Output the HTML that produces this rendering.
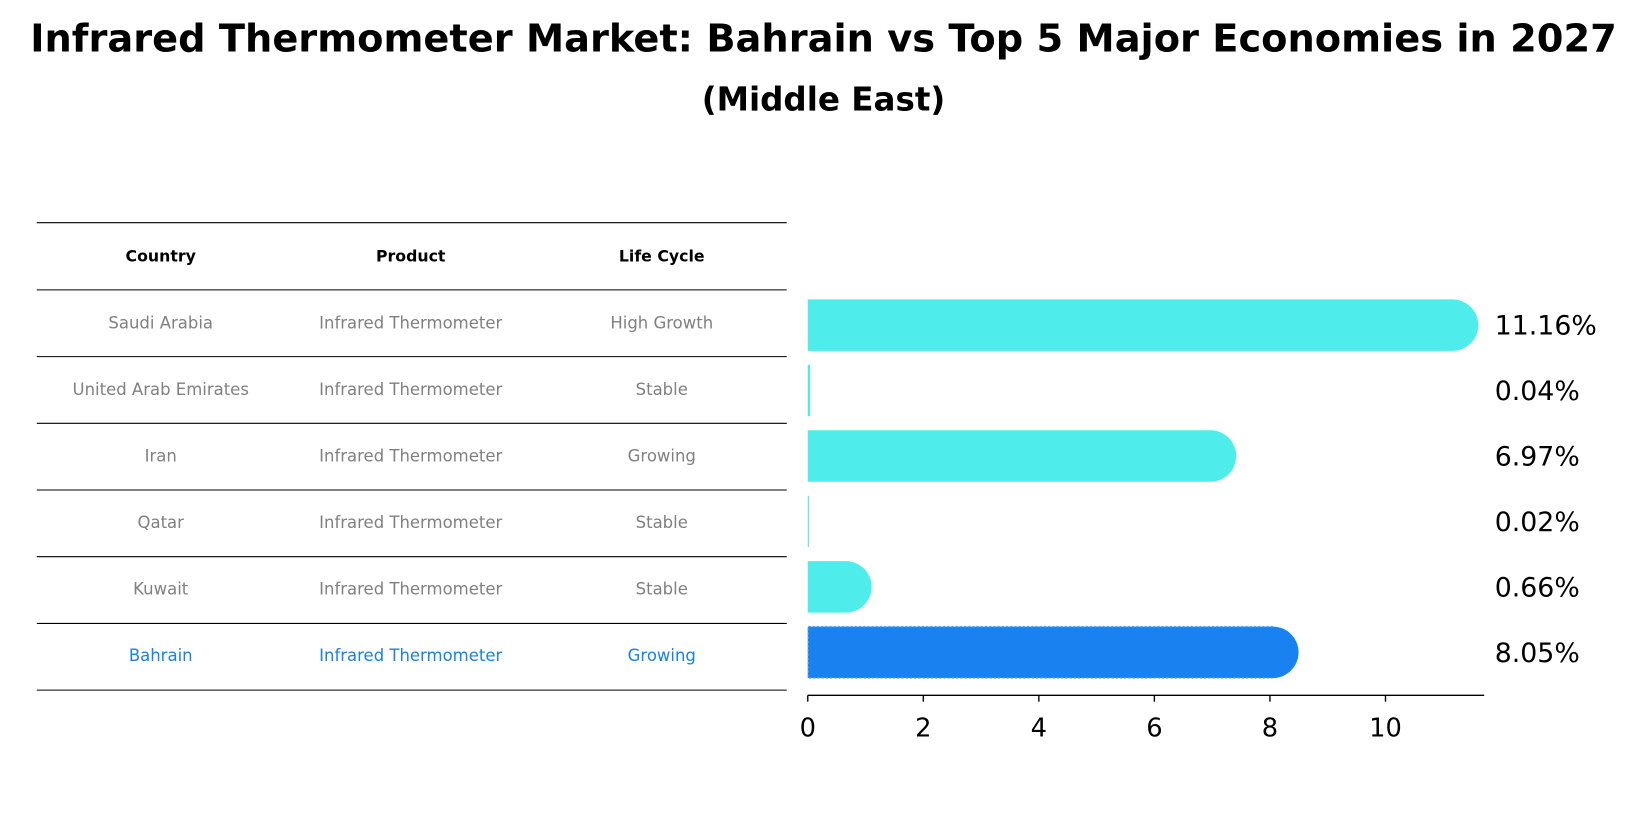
<!DOCTYPE html>
<html><head><meta charset="utf-8"><style>
html,body{margin:0;padding:0;background:#fff;width:1647px;height:823px;overflow:hidden}
#wrap{position:absolute;left:0;top:0;width:1568px;height:784px;transform:scale(1.0504);transform-origin:0 0;font-family:"DejaVu Sans","Liberation Sans",sans-serif}
</style></head><body>
<div id="wrap">
<svg id="svg" width="1568" height="784" xmlns="http://www.w3.org/2000/svg">
<text x="784" y="49" text-anchor="middle" font-size="36.5" font-weight="bold">Infrared Thermometer Market: Bahrain vs Top 5 Major Economies in 2027</text>
<text x="784" y="105" text-anchor="middle" font-size="31" font-weight="bold">(Middle East)</text>
<g id="table"></g>
<g id="bars"></g>
</svg>
</div>
<script>
const countries=["Saudi Arabia","United Arab Emirates","Iran","Qatar","Kuwait","Bahrain"];
const products=["Infrared Thermometer","Infrared Thermometer","Infrared Thermometer","Infrared Thermometer","Infrared Thermometer","Infrared Thermometer"];
const lifeCycles=["High Growth","Stable","Growing","Stable","Stable","Growing"];
const values=[11.16,0.04,6.97,0.02,0.66,8.05];
const xTicks=[0,2,4,6,8,10];
const NS="http://www.w3.org/2000/svg";
function mk(tag,attrs,parent,text){const e=document.createElementNS(NS,tag);for(const k in attrs)e.setAttribute(k,attrs[k]);if(text!==undefined)e.textContent=text;parent.appendChild(e);return e;}
const x0=769, pxPer=55;
function xs(v){return x0+v*pxPer;}
const rowY0=307, rowStep=63.4;
function ys(i){return rowY0+i*rowStep;}
function bys(i){return 309.5+i*62.3;}
const tbl=document.getElementById('table');
const lineYs=[212,276,339.5,403,466.5,530,593.5,657];
lineYs.forEach(y=>{const l=mk('line',{x1:35,x2:749,y1:y,y2:y,stroke:'#000','stroke-width':1},tbl);

});
const colX=[153,391,630];
["Country","Product","Life Cycle"].forEach((h,j)=>{const t=mk('text',{x:colX[j],y:249,'text-anchor':'middle','font-size':15,'font-weight':'bold'},tbl,h);

});
countries.forEach((c,i)=>{const col=i===countries.length-1?'#1a82e0':'#808080';const y=ys(i)+5.5;
[c,products[i],lifeCycles[i]].forEach((s,j)=>{const t=mk('text',{x:colX[j],y:y,'text-anchor':'middle','font-size':15.7,fill:col},tbl,s);

});});
const bg=document.getElementById('bars');
const bh=49;
values.forEach((v,i)=>{const hi=i===values.length-1;const col=hi?'#1a82f0':'#4eecea';const w=xs(v)-x0;const yc=bys(i);
const g=mk('g',{},bg);


const r=bh/2;
if(w>8){mk('path',{d:`M${x0},${yc-r} L${x0+w},${yc-r} A${r},${r} 0 0 1 ${x0+w},${yc+r} L${x0},${yc+r} Z`,fill:col},g);}
else{mk('rect',{x:x0,y:yc-r,width:Math.max(w,1),height:bh,fill:col},g);}
if(hi){mk('path',{d:`M${x0+w},${yc-r} L${x0+0.5},${yc-r} L${x0+0.5},${yc+r} L${x0+w},${yc+r}`,fill:'none',stroke:'#5aa0f0','stroke-width':1.2,'stroke-dasharray':'2,2'},g);}
const t=mk('text',{x:1423,y:yc+9,'font-size':25.5},bg,v.toFixed(2)+'%');

});
const ax=mk('line',{x1:x0,x2:1413,y1:662,y2:662,stroke:'#000','stroke-width':1.3},bg);


xTicks.forEach(v=>{const tk=mk('line',{x1:xs(v),x2:xs(v),y1:662,y2:668,stroke:'#000','stroke-width':1.3},bg);


const t=mk('text',{x:xs(v),y:701,'text-anchor':'middle','font-size':24.5},bg,String(v));

});
</script>
</body></html>
